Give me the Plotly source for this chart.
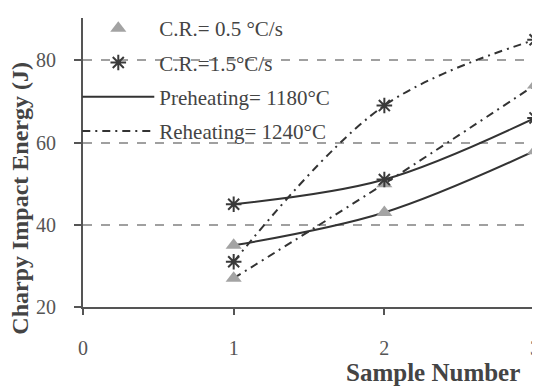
import plotly.graph_objects as go

samples = [1, 2, 3]
pre_cr05 = [35, 43, 58]
pre_cr15 = [45, 51, 66]
re_cr05 = [27, 50, 74]
re_cr15 = [31, 69, 85]

x_ticks = [0, 1, 2, 3]
y_ticks = [20, 40, 60, 80]

FONT = "Liberation Serif"
LINE = "#333333"
TRI = "#a3a3a3"
STAR = "#3a3a3a"

fig = go.Figure()

# trend curves
fig.add_trace(go.Scatter(x=samples, y=pre_cr05, mode="lines", line=dict(color=LINE, width=2, shape="spline"),
                         name="Preheating= 1180°C", legendrank=3, legendgroup="c"))
fig.add_trace(go.Scatter(x=samples, y=pre_cr15, mode="lines", line=dict(color=LINE, width=2, shape="spline"),
                         showlegend=False, legendgroup="c"))
fig.add_trace(go.Scatter(x=samples, y=re_cr05, mode="lines",
                         line=dict(color=LINE, width=2, shape="spline", dash="8px,5px,2px,5px"),
                         name="Reheating= 1240°C", legendrank=4, legendgroup="d"))
fig.add_trace(go.Scatter(x=samples, y=re_cr15, mode="lines",
                         line=dict(color=LINE, width=2, shape="spline", dash="8px,5px,2px,5px"),
                         showlegend=False, legendgroup="d"))

# markers
fig.add_trace(go.Scatter(x=samples + samples, y=pre_cr05 + re_cr05, mode="markers",
                         marker=dict(symbol="triangle-up", size=14, color=TRI),
                         name="C.R.= 0.5 °C/s", legendrank=1, legendgroup="a", cliponaxis=False))
fig.add_trace(go.Scatter(x=samples + samples, y=pre_cr15 + re_cr15, mode="markers",
                         marker=dict(symbol="asterisk-open", size=13, color=STAR, line=dict(color=STAR, width=2)),
                         name="C.R.=1.5°C/s", legendrank=2, legendgroup="b", cliponaxis=False))

fig.update_layout(
    width=532, height=379,
    margin=dict(l=75, r=0, t=8, b=80),
    paper_bgcolor="white", plot_bgcolor="white",
    font=dict(family=FONT, color="#333333", size=20),
    showlegend=True,
    legend=dict(x=-0.0125, y=1.035, xanchor="left", yanchor="top", bgcolor="rgba(0,0,0,0)",
                font=dict(family=FONT, size=21, color="#444444"),
                traceorder="grouped", tracegroupgap=4, itemwidth=72),
    xaxis=dict(range=[0, 3.033], tickvals=x_ticks, ticks="outside", ticklen=6, tickwidth=2,
               tickcolor="#555555", showline=True, linecolor="#555555", linewidth=2,
               showgrid=False, zeroline=False, ticklabelstandoff=16, automargin=False,
               ticklabeloverflow="allow",
               tickfont=dict(family=FONT, size=20, color="#555555")),
    yaxis=dict(range=[20, 90.3], tickvals=y_ticks, ticks="outside", ticklen=7, tickwidth=2,
               tickcolor="#555555", showline=True, linecolor="#555555", linewidth=2,
               showgrid=True, gridcolor="#a0a0a0", gridwidth=1.5, griddash="dash",
               zeroline=False, ticklabelstandoff=14, automargin=False,
               tickfont=dict(family=FONT, size=20, color="#555555")),
    annotations=[
        dict(text="<b>Sample Number</b>", xref="paper", yref="paper", x=0.766, y=-0.227,
             xanchor="center", yanchor="middle", showarrow=False,
             font=dict(family=FONT, size=25, color="#444444")),
        dict(text="<b>Charpy Impact Energy (J)</b>", xref="paper", yref="paper", x=-0.138, y=0.378,
             xanchor="center", yanchor="middle", showarrow=False, textangle=-90,
             font=dict(family=FONT, size=24, color="#444444")),
    ],
)

fig.write_html("out.html")
